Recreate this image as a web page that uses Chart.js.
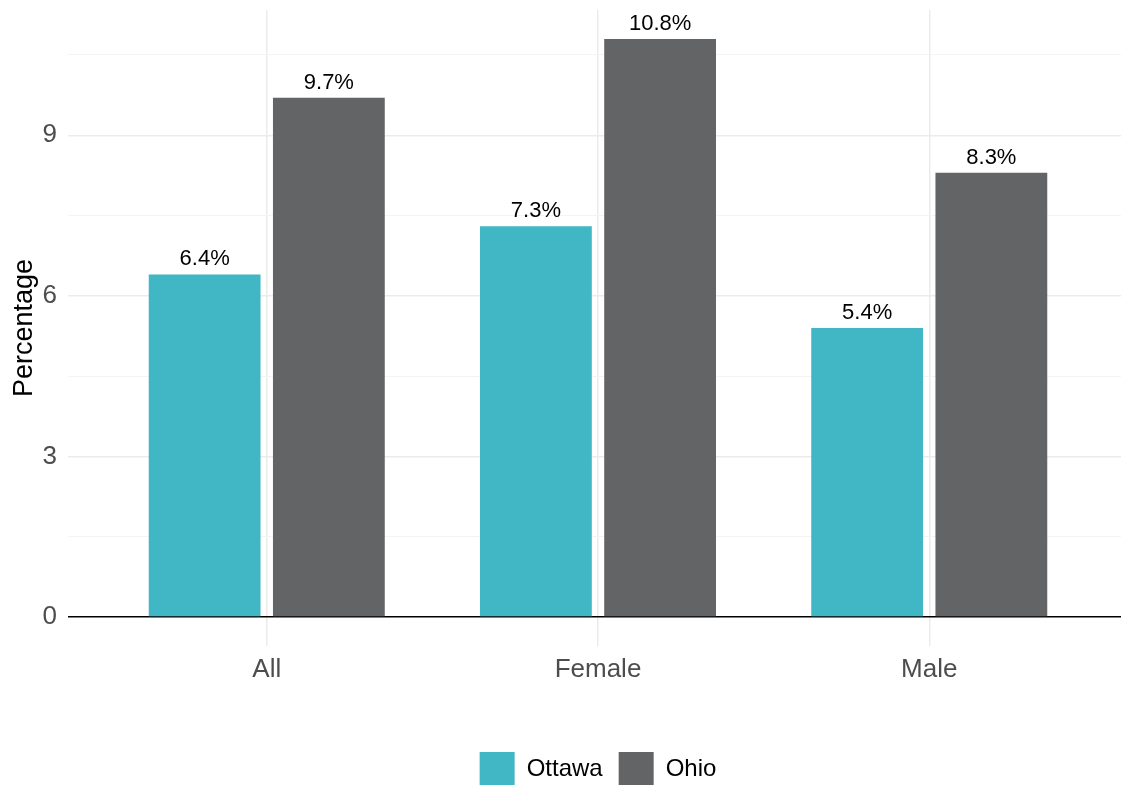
<!DOCTYPE html>
<html lang="en">
<head>
    <meta charset="UTF-8">
    <title>Percentage by group</title>
    <script src="https://cdn.jsdelivr.net/npm/chart.js"></script>
    <style>
        body { margin: 0; overflow: hidden; background: #fff; }
        #wrap { width: 1128px; height: 797px; }
    </style>
</head>
<body>
    <div id="wrap"><canvas id="barChart"></canvas></div>
    <script>
        const categories = ['All', 'Female', 'Male'];
        const ottawa = [6.4, 7.3, 5.4];
        const ohio = [9.7, 10.8, 8.3];
        const yTicks = [0, 1.5, 3, 4.5, 6, 7.5, 9, 10.5];
        const yLabels = [0, 3, 6, 9];

        const FONT = "'Liberation Sans', Arial, sans-serif";
        Chart.defaults.font.family = FONT;

        // value labels above each bar
        const barLabels = {
            id: 'barLabels',
            afterDatasetsDraw(chart) {
                const ctx = chart.ctx;
                ctx.save();
                ctx.font = '22px ' + FONT;
                ctx.fillStyle = '#000';
                ctx.textAlign = 'center';
                ctx.textBaseline = 'alphabetic';
                chart.data.datasets.forEach((ds, i) => {
                    chart.getDatasetMeta(i).data.forEach((bar, j) => {
                        ctx.fillText(ds.data[j].y.toFixed(1) + '%', bar.x, bar.y - 9);
                    });
                });
                ctx.restore();
            }
        };

        const toPoints = vals => vals.map((v, i) => ({ x: i + 1, y: v }));

        new Chart(document.getElementById('barChart'), {
            type: 'bar',
            data: {
                datasets: [
                    { label: 'Ottawa', data: toPoints(ottawa), backgroundColor: '#41b6c4' },
                    { label: 'Ohio', data: toPoints(ohio), backgroundColor: '#636466' }
                ]
            },
            options: {
                responsive: true,
                maintainAspectRatio: false,
                devicePixelRatio: 1,
                animation: false,
                categoryPercentage: 0.75,
                barPercentage: 0.9,
                layout: { padding: { top: 10, left: 0, right: 0, bottom: 0 } },
                plugins: {
                    tooltip: { enabled: false },
                    legend: {
                        position: 'bottom',
                        fullSize: false,
                        labels: {
                            boxWidth: 35,
                            boxHeight: 35,
                            padding: 16,
                            color: '#000',
                            font: { size: 24 }
                        }
                    }
                },
                scales: {
                    x: {
                        type: 'linear',
                        min: 0.4,
                        max: 3.6,
                        offset: false,
                        afterBuildTicks: s => { s.ticks = categories.map((c, i) => ({ value: i + 1 })); },
                        afterFit: s => { s.height = 90; s.paddingLeft = 0; s.paddingRight = 0; },
                        ticks: {
                            callback: v => categories[Math.round(v) - 1],
                            color: '#4d4d4d',
                            font: { size: 26 },
                            padding: 8,
                            autoSkip: false,
                            maxRotation: 0
                        },
                        grid: { color: '#ebebeb', lineWidth: 1.5, drawTicks: false, offset: false },
                        border: { display: false }
                    },
                    y: {
                        min: -0.54,
                        max: 11.34,
                        afterBuildTicks: s => { s.ticks = yTicks.map(v => ({ value: v })); },
                        afterFit: s => { s.width = 68; s.paddingTop = 0; s.paddingBottom = 0; },
                        ticks: {
                            callback: v => yLabels.includes(v) ? v : '',
                            color: '#4d4d4d',
                            font: { size: 26 },
                            padding: 11
                        },
                        grid: {
                            drawTicks: false,
                            color: c => c.tick.value === 0 ? '#000' : (yLabels.includes(c.tick.value) ? '#ebebeb' : '#f4f4f4'),
                            lineWidth: c => c.tick.value === 0 ? 1.6 : (yLabels.includes(c.tick.value) ? 1.5 : 1)
                        },
                        border: { display: false },
                        title: {
                            display: true,
                            text: 'Percentage',
                            color: '#000',
                            font: { size: 27 },
                            padding: { top: 8, bottom: 0 }
                        }
                    }
                }
            },
            plugins: [barLabels]
        });
    </script>
</body>
</html>
